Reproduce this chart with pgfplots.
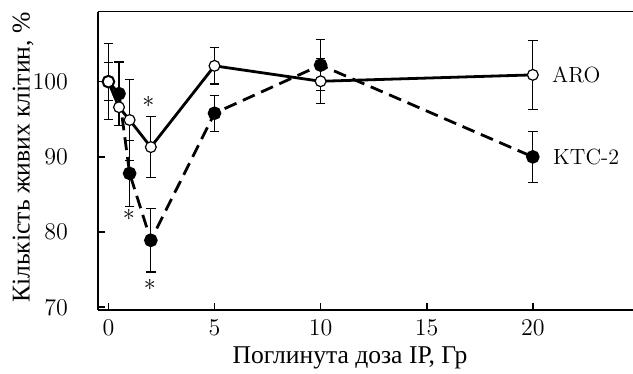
\documentclass[border=0pt]{standalone}
\usepackage{fontspec}
\usepackage{pgfplots}
\usepackage{pgfplotstable}
\pgfplotsset{compat=1.18}
\newfontfamily\cyr{Liberation Serif}

\pgfplotstableread{
x y e
0 100.0 2.55
0.5 98.4 4.2
1 87.8 4.4
2 78.9 4.2
5 95.8 2.4
10 102.2 3.4
20 90.0 3.4
}\ktc

\pgfplotstableread{
x y e
0 100.0 5.05
0.5 96.6 0
1 94.9 5.4
2 91.3 4.05
5 102.1 2.4
10 100.05 3.0
20 100.9 4.55
}\aro

\begin{document}
\begin{tikzpicture}
\begin{axis}[
 scale only axis, width=267.5pt, height=149.15pt,
 xmin=-0.49, xmax=24.72, ymin=69.64, ymax=109.3,
 axis x line*=bottom, axis y line*=left,
 axis line style={line width=0.8pt, black},
 xtick={0,5,10,15,20}, ytick={70,80,90,100},
 tick align=inside, major tick length=3.5pt,
 tick style={line width=0.8pt, black},
 tick label style={font=\fontsize{11.5}{13}\selectfont},
 xticklabel style={yshift=-4pt, inner sep=1pt},
 yticklabel style={xshift=-11.5pt},
 xlabel={\cyr Поглинута доза ІР, Гр},
 ylabel={\cyr Кількість живих клітин, \%},
 label style={font=\fontsize{12.8}{14}\selectfont, inner sep=0.5pt},
 xlabel style={at={(axis description cs:0.471,-0.162)}, anchor=center},
 ylabel style={at={(axis description cs:-0.1402,0.511)}, anchor=center},
 clip=false,
]
\addplot[black, line width=1.4pt, dash pattern=on 6.5pt off 3.5pt,
  mark=*, mark size=2.7pt, mark options={solid, fill=black},
  error bars/.cd, y dir=both, y explicit,
  error bar style={solid, line width=0.6pt},
  error mark options={solid, rotate=90, line width=0.6pt, mark size=2.4pt}]
  table[x=x, y=y, y error=e]{\ktc};
\addplot[black, line width=1.4pt,
  mark=*, mark size=2.7pt, mark options={solid, fill=white, draw=black, line width=0.6pt},
  error bars/.cd, y dir=both, y explicit,
  error bar style={solid, line width=0.6pt},
  error mark options={solid, rotate=90, line width=0.6pt, mark size=2.4pt}]
  table[x=x, y=y, y error=e]{\aro};
\draw[line width=0.8pt] (rel axis cs:0,1) -- (rel axis cs:1,1);
\node[anchor=west, inner sep=0, font=\fontsize{11}{13}\selectfont, xshift=9.5pt] at (axis cs:20,100.9) {ARO};
\node[anchor=west, inner sep=0, font=\fontsize{11}{13}\selectfont, xshift=10pt] at (axis cs:20,90) {KTC-2};
\node[inner sep=0, font=\fontsize{12}{12}\selectfont] at (axis cs:1.88,97.3) {$\ast$};
\node[inner sep=0, font=\fontsize{12}{12}\selectfont] at (axis cs:0.97,82.3) {$\ast$};
\node[inner sep=0, font=\fontsize{12}{12}\selectfont] at (axis cs:1.95,73.0) {$\ast$};
\end{axis}
\pgfresetboundingbox
\path (-49pt,-32pt) rectangle (267.5pt,155pt);
\end{tikzpicture}
\end{document}
